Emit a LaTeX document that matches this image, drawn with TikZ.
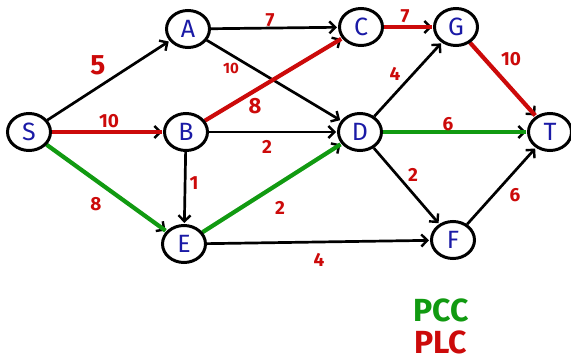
\documentclass[tikz,border=0pt]{standalone}
\usepackage{fontspec}
\setmainfont{Fira Sans}
\usetikzlibrary{shapes.geometric,arrows.meta,calc,backgrounds}
\definecolor{nodeblue}{HTML}{1A1AA6}
\definecolor{pathred}{HTML}{CC0A0A}
\definecolor{pathgreen}{HTML}{119A11}
\tikzset{
  vertex/.style={ellipse, draw=black, line width=3pt, fill=white,
    minimum width=43pt, minimum height=37pt, inner sep=0pt,
    text=nodeblue, font=\fontsize{25}{25}\selectfont},
  edge/.style={line width=2.7pt, black, -{Straight Barb[length=6pt,width=12pt,line width=2.4pt]}, shorten >=1pt},
  redpath/.style={line width=4.2pt, pathred, shorten >=1pt},
  greenpath/.style={line width=4.2pt, pathgreen, shorten >=1pt},
  weight/.style={text=pathred, font=\bfseries\fontsize{19}{19}\selectfont, inner sep=0pt},
  legend/.style={font=\bfseries\fontsize{32}{32}\selectfont, inner sep=0pt, anchor=base},
}
\begin{document}
\begin{tikzpicture}[x=1pt,y=-1pt]
\useasboundingbox (0,0) rectangle (571,361);
% vertices
\node[vertex] (S) at (29,132) {S};
\node[vertex] (A) at (188,29) {A};
\node[vertex] (B) at (186,132) {B};
\node[vertex] (C) at (361,27) {C};
\node[vertex] (G) at (456,27) {G};
\node[vertex] (D) at (360,132) {D};
\node[vertex] (T) at (550,132) {T};
\node[vertex] (E) at (184,244) {E};
\node[vertex] (F) at (453,240) {F};
\begin{pgfonlayer}{background}
% arcs
\draw[edge] (S) -- (A);
\draw[edge] (S) -- (B);
\draw[edge] (S) -- (E);
\draw[edge] (A) -- (C);
\draw[edge] (A) -- (D);
\draw[edge] (B) -- (C);
\draw[edge] (B) -- (D);
\draw[edge] (B) -- (E);
\draw[edge] (C) -- (G);
\draw[edge] (D) -- (G);
\draw[edge] (G) -- (T);
\draw[edge] (D) -- (T);
\draw[edge] (D) -- (F);
\draw[edge] (E) -- (D);
\draw[edge] (E) -- (F);
\draw[edge] (F) -- (T);
% longest path
\draw[redpath] (S) -- (B);
\draw[redpath] (B) -- (C);
\draw[redpath] (C) -- (G);
\draw[redpath] (G) -- (T);
% critical path
\draw[greenpath] (S) -- (E);
\draw[greenpath] (E) -- (D);
\draw[greenpath] (D) -- (T);
\end{pgfonlayer}
% weights
\node[weight, font=\bfseries\fontsize{28}{28}\selectfont] (w5) at (98,65) {5};
\node[weight] (w10a) at (109,121) {10};
\node[weight] (w8a) at (96,204) {8};
\node[weight] (w7a) at (270,20) {7};
\node[weight, font=\bfseries\fontsize{15}{15}\selectfont] (w10b) at (231,68) {10};
\node[weight, font=\bfseries\fontsize{22}{22}\selectfont] (w8b) at (255,106) {8};
\node[weight] (w2a) at (267,147) {2};
\node[weight] (w1) at (194,183) {1};
\node[weight] (w7b) at (405,16) {7};
\node[weight] (w4a) at (395,74) {4};
\node[weight] (w10c) at (511,59) {10};
\node[weight] (w6a) at (448,124) {6};
\node[weight] (w2b) at (413,175) {2};
\node[weight] (w2c) at (280,208) {2};
\node[weight] (w4b) at (319,260) {4};
\node[weight] (w6b) at (515,195) {6};
% legend
\node[legend, text=pathgreen] (pcc) at (441,321) {PCC};
\node[legend, text=pathred] (plc) at (441,353) {PLC};
\end{tikzpicture}
\end{document}
